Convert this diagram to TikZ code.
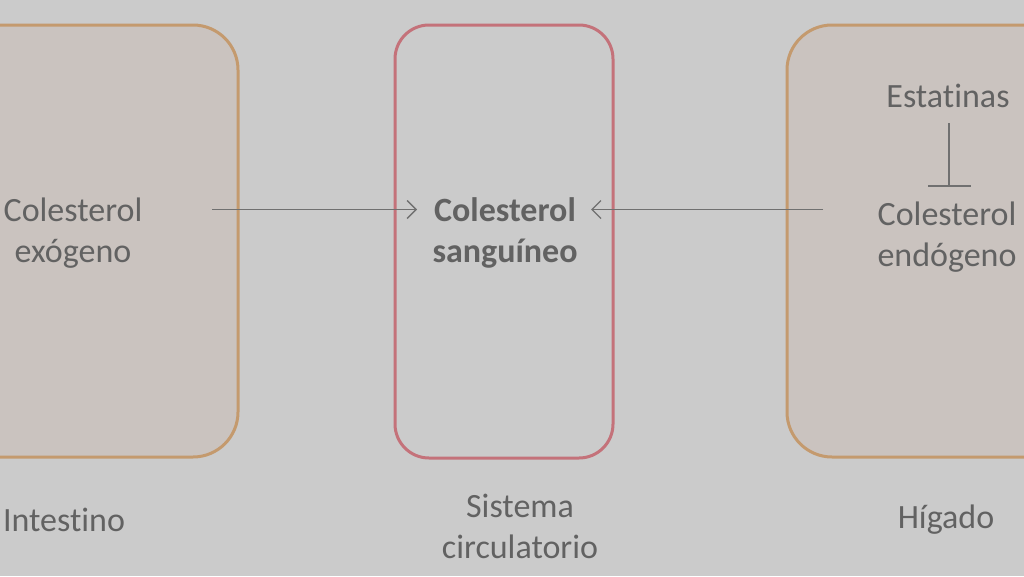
\documentclass[tikz,border=0pt]{standalone}
\usepackage{fontspec}
\setmainfont{Carlito}[Ligatures=NoCommon]
\usetikzlibrary{arrows.meta}
\definecolor{bg}{RGB}{203,203,203}
\definecolor{boxfill}{RGB}{202,195,191}
\definecolor{tan}{RGB}{196,154,110}
\definecolor{rosy}{RGB}{196,114,122}
\definecolor{txt}{RGB}{98,98,98}
\definecolor{ln}{RGB}{112,112,112}
\tikzset{
  organ/.style={draw=tan, fill=boxfill, line width=3pt, rounded corners=45pt, minimum width=#1, minimum height=432pt, inner sep=0pt},
  blood/.style={draw=rosy, line width=3pt, rounded corners=34pt, minimum width=218pt, minimum height=433pt, inner sep=0pt},
  lbl/.style={text=txt, font=\fontsize{34}{41}\selectfont, align=center, inner sep=0pt},
  flow/.style={draw=ln, line width=1.4pt, -{Straight Barb[length=9pt,width=18pt,line width=1.4pt]}},
  inhib/.style={draw=ln, line width=1.4pt}
}
\begin{document}
\begin{tikzpicture}[x=1pt,y=-1pt]
\useasboundingbox (0,0) rectangle (1024,576);
\fill[bg] (0,0) rectangle (1024,576);
\node[organ=440pt] (intbox) at (18,241) {};
\node[blood] (circbox) at (504,241.5) {};
\node[organ=440pt] (higbox) at (1007,241) {};

\node[lbl] (exo) at (73,233) {Colesterol\\exógeno};
\node[lbl, font=\fontsize{34}{41}\selectfont\bfseries] (sang) at (505,233) {Colesterol\\sanguíneo};
\node[lbl] (endo) at (947,237) {Colesterol\\endógeno};
\node[lbl] (estat) at (948,96) {Estatinas};

\node[lbl] (intl) at (64,520) {Intestino};
\node[lbl] (circl) at (520,526) {Sistema\\circulatorio};
\node[lbl] (higl) at (946,520) {Hígado};

\coordinate (a1s) at (212,209.5);
\coordinate (a1e) at (417,209.5);
\coordinate (a2s) at (823,209.5);
\coordinate (a2e) at (591,209.5);
\coordinate (is) at (949,123);
\coordinate (ie) at (949,186);
\coordinate (il) at (928,186);
\coordinate (ir) at (971,186);

\draw[flow] (a1s) -- (a1e);
\draw[flow] (a2s) -- (a2e);
\draw[inhib] (is) -- (ie);
\draw[inhib] (il) -- (ir);
\end{tikzpicture}
\end{document}
